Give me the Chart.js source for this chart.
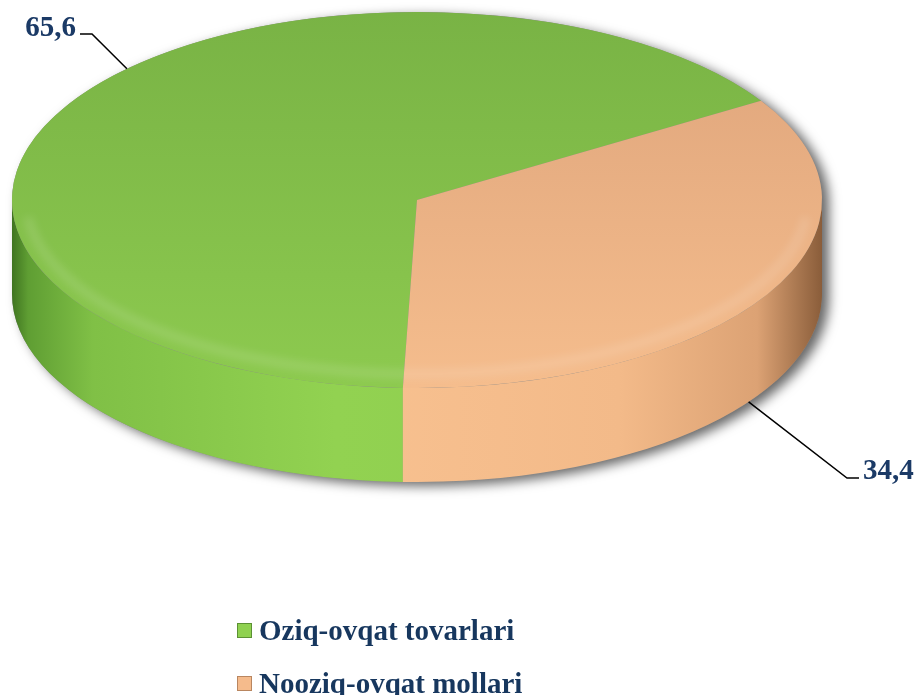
<!DOCTYPE html>
<html>
<head>
<meta charset="utf-8">
<script src="https://cdn.jsdelivr.net/npm/chart.js@4.4.0/dist/chart.umd.min.js"></script>
<style>
body { margin: 0; background: #fff; width: 917px; height: 695px; overflow: hidden; position: relative; font-family: 'Liberation Serif', 'Times New Roman', serif; }
#chart { position: absolute; left: 0; top: 0; }
#legend { position: absolute; left: 237px; top: 604px; }
.item { display: flex; align-items: center; height: 53px; font-weight: bold; font-size: 29px; color: #17375e; white-space: nowrap; }
.box { width: 15px; height: 15px; margin-right: 7px; box-sizing: border-box; border: 1px solid; }
</style>
</head>
<body>
<canvas id="chart" width="917" height="695"></canvas>
<div id="legend"></div>
<script>
// Ma'lumotlar
const labels = ['Oziq-ovqat tovarlari', 'Nooziq-ovqat mollari'];
const values = [65.6, 34.4];
const valueLabels = ['65,6', '34,4'];

// Ranglar: ustki yuz (tepa -> past) va yon devor (chap -> o'ng)
const topColors = [['#79b345', '#8dca4f'], ['#dea47b', '#f5bd8d']];
const sideStops = [0, 0.02, 0.1, 0.4, 0.75, 0.92, 1];
const sideColors = [
    ['#3f7420', '#5f9e33', '#80c046', '#92d251', '#8ecd4f', '#7ab544', '#4a7d28'],
    ['#a06c45', '#d49a6e', '#eeb486', '#f8c190', '#f3ba89', '#dca274', '#8a5d3a']
];
const boxColors = [['#8fd150', '#5c9134'], ['#f5bb8c', '#b98660']];

// Tilt sozlamalari (ekrandagi ellips)
const tiltOpts = { cx: 417, cy: 200, rx: 405, ry: 188, depth: 94 };

// Pastki yarim aylanaga tushadigan burchak oraliqlari
function lowerRanges(s, e) {
    const out = [];
    for (let k = -2; k <= 2; k++) {
        const lo = Math.max(s, k * 2 * Math.PI);
        const hi = Math.min(e, k * 2 * Math.PI + Math.PI);
        if (hi > lo) out.push([lo, hi]);
    }
    return out;
}

// 3D ko'rinish: ellipsga siqish va yon devorni chizish
const tilt = {
    id: 'tilt',
    beforeDatasetsDraw(chart, args, opts) {
        const arcs = chart.getDatasetMeta(0).data;
        const ctx = chart.ctx;
        const R = arcs[0].outerRadius, cx = arcs[0].x, cy = arcs[0].y;
        const sy = opts.ry / R;
        ctx.save();
        ctx.translate(opts.cx, opts.cy);
        ctx.scale(opts.rx / R, sy);
        ctx.translate(-cx, -cy);
        const d = opts.depth / sy;

        // Soya
        ctx.save();
        ctx.shadowColor = 'rgba(0,0,0,0.6)';
        ctx.shadowBlur = 12;
        ctx.shadowOffsetX = 7;
        ctx.shadowOffsetY = 4;
        ctx.beginPath();
        ctx.arc(cx, cy + d, R, 0, Math.PI);
        ctx.arc(cx, cy, R, Math.PI, 2 * Math.PI);
        ctx.closePath();
        ctx.fillStyle = '#888';
        ctx.fill();
        ctx.restore();

        // Yon devor
        arcs.forEach((arc, i) => {
            const g = ctx.createLinearGradient(cx - R, 0, cx + R, 0);
            sideStops.forEach((s, j) => g.addColorStop(s, sideColors[i][j]));
            lowerRanges(arc.startAngle, arc.endAngle).forEach(([s, e]) => {
                ctx.beginPath();
                ctx.arc(cx, cy, R, s, e);
                ctx.arc(cx, cy + d, R, e, s, true);
                ctx.closePath();
                ctx.fillStyle = g;
                ctx.fill();
            });
        });
    },
    afterDatasetsDraw(chart, args, opts) {
        const ctx = chart.ctx;
        ctx.restore();
        // Ustki yuz chetidagi yumshoq yorug' tasma (bevel)
        ctx.save();
        ctx.filter = 'blur(4px)';
        ctx.beginPath();
        ctx.ellipse(opts.cx, opts.cy, opts.rx - 14, opts.ry - 14, 0, 0.1, Math.PI - 0.1);
        ctx.strokeStyle = 'rgba(255,255,255,0.13)';
        ctx.lineWidth = 9;
        ctx.stroke();
        ctx.restore();
    }
};

// Qiymat yorliqlari va chiziqlar
const leaders = {
    id: 'leaders',
    afterDraw(chart, args, opts) {
        const arcs = chart.getDatasetMeta(0).data;
        const t = tiltOpts;
        const ctx = chart.ctx;
        ctx.save();
        ctx.font = 'bold 29px "Liberation Serif"';
        ctx.fillStyle = '#1b3a66';
        ctx.strokeStyle = '#000';
        ctx.lineWidth = 1.5;
        valueLabels.forEach((txt, i) => {
            const arc = arcs[i];
            const a = arc.startAngle + (arc.endAngle - arc.startAngle) * opts.anchorFrac[i];
            const x = t.cx + t.rx * Math.cos(a);
            let y = t.cy + t.ry * Math.sin(a);
            if (Math.sin(a) > 0) y += t.depth;
            const p = opts.pos[i];
            ctx.beginPath();
            ctx.moveTo(x, y);
            ctx.lineTo(p.ex, p.y);
            ctx.lineTo(p.lx, p.y);
            ctx.stroke();
            ctx.textAlign = p.align;
            ctx.textBaseline = 'alphabetic';
            ctx.fillText(txt, p.tx, p.ty);
        });
        ctx.restore();
    }
};

function topGradient(i) {
    return function(c) {
        const chart = c.chart;
        const area = chart.chartArea;
        if (!area) return topColors[i][1];
        const cy = (area.top + area.bottom) / 2;
        const R = Math.min(area.right - area.left, area.bottom - area.top) / 2;
        const g = chart.ctx.createLinearGradient(0, cy - R, 0, cy + R);
        g.addColorStop(0, topColors[i][0]);
        g.addColorStop(1, topColors[i][1]);
        return g;
    };
}

new Chart(document.getElementById('chart'), {
    type: 'pie',
    data: {
        labels: labels,
        datasets: [{
            data: values,
            backgroundColor: c => topGradient(c.dataIndex)(c),
            borderWidth: 0,
            clip: false
        }]
    },
    options: {
        responsive: false,
        animation: false,
        rotation: 182,
        layout: { padding: 0 },
        plugins: {
            legend: { display: false },
            tooltip: { enabled: false },
            tilt: tiltOpts,
            leaders: {
                anchorFrac: [0.56, 0.54],
                pos: [
                    { ex: 92, lx: 80, y: 34, tx: 76, ty: 36, align: 'right' },
                    { ex: 847, lx: 859, y: 478, tx: 863, ty: 479, align: 'left' }
                ]
            }
        }
    },
    plugins: [tilt, leaders]
});

// Legend
const legend = document.getElementById('legend');
labels.forEach((l, i) => {
    const row = document.createElement('div');
    row.className = 'item';
    const box = document.createElement('span');
    box.className = 'box';
    box.style.background = boxColors[i][0];
    box.style.borderColor = boxColors[i][1];
    row.appendChild(box);
    row.appendChild(document.createTextNode(l));
    legend.appendChild(row);
});
</script>
</body>
</html>
